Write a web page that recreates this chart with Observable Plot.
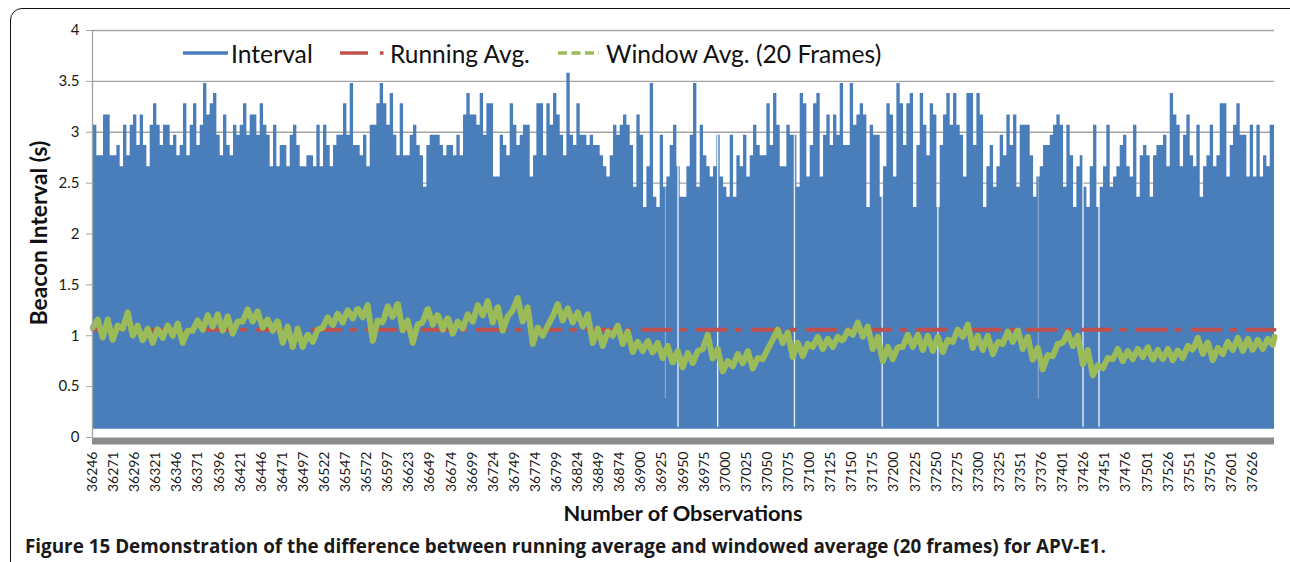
<!DOCTYPE html>
<html>
<head>
<meta charset="utf-8">
<script src="https://cdn.jsdelivr.net/npm/d3@7"></script>
<script src="https://cdn.jsdelivr.net/npm/@observablehq/plot@0.6"></script>
<style>
  html, body { margin:0; padding:0; background:#fff; }
  body { width:1290px; height:562px; overflow:hidden; position:relative; font-family: Lato, "Noto Sans", sans-serif; color:#1a1a1a; }
  #border { position:absolute; left:10px; top:8px; width:1300px; height:620px; border:1.6px solid #111; border-radius:12px; box-sizing:border-box; }
  #chart { position:absolute; left:0; top:0; }
  .leg { position:absolute; top:38px; height:30px; display:flex; align-items:center; font-size:25px; color:#111; white-space:nowrap; }
  .leg span { display:inline-block; }
  #ytitle { position:absolute; left:38px; top:233px; transform: translate(-50%,-50%) rotate(-90deg); font-weight:700; font-size:20px; white-space:nowrap; color:#111; }
  #xtitle { position:absolute; left:683px; top:512px; transform: translate(-50%,-50%); font-weight:700; font-size:21px; white-space:nowrap; color:#111; }
  #caption { position:absolute; left:25px; top:546px; transform: translateY(-50%); font-family:"Open Sans", "Noto Sans", sans-serif; font-weight:700; font-size:18px; white-space:nowrap; color:#1a1a1a; }
</style>
</head>
<body>
<div id="border"></div>
<div id="chart"></div>
<div id="legend"></div>
<div id="ytitle">Beacon Interval (s)</div>
<div id="xtitle">Number of Observations</div>
<div id="caption">Figure 15 Demonstration of the difference between running average and windowed average (20 frames) for APV-E1.</div>
<script>
// ---------- data ----------
const obsCount = 1402; // observations shown (category axis)
const tickLabels = ["36246","36271","36296","36321","36346","36371","36396","36421","36446","36471",
  "36497","36522","36547","36572","36597","36623","36649","36674","36699","36724",
  "36749","36774","36799","36824","36849","36874","36900","36925","36950","36975",
  "37000","37025","37050","37075","37100","37125","37150","37175","37200","37225",
  "37250","37275","37300","37325","37351","37376","37401","37426","37451","37476",
  "37501","37526","37551","37576","37601","37626"];
const labelEvery = 25;
const yTicks = [0,0.5,1,1.5,2,2.5,3,3.5,4];

// Interval: upper envelope of the beacon intervals (s), one value per ~3.95 observations
const intervalStep = 3.951, intervalStart = -2.73;
const intervalPeaks = [
3.17,3.07,2.77,2.77,3.17,3.17,2.77,2.77,2.87,2.66,
3.07,2.77,3.07,3.17,2.87,3.17,2.87,2.66,3.07,3.28,
3.07,2.87,3.07,3.07,2.87,2.97,2.77,2.87,3.28,2.77,
3.07,3.28,2.87,3.07,3.48,3.17,3.28,3.38,2.97,2.77,
3.17,2.87,2.77,3.07,2.97,3.07,3.28,2.97,3.17,3.17,
2.97,3.28,3.07,2.97,2.66,3.07,2.66,2.87,2.87,2.66,
2.97,3.07,2.87,2.66,2.66,2.77,2.77,2.66,3.07,2.66,
3.07,2.87,2.66,2.87,2.97,2.97,3.28,2.97,3.48,2.87,
2.87,2.77,2.97,2.66,3.07,3.07,3.28,3.48,3.28,3.07,
3.38,2.97,2.77,3.28,2.77,2.77,2.97,3.07,2.87,2.77,
2.46,2.87,2.97,2.97,2.97,2.87,2.77,2.87,2.87,2.77,
2.97,2.77,3.17,3.38,3.17,3.17,3.07,3.38,2.97,3.28,
3.28,2.56,2.56,2.97,2.87,2.77,3.28,3.07,2.87,2.97,
3.07,3.07,2.56,2.77,3.28,3.28,2.77,3.28,3.07,3.38,
3.17,2.97,2.77,3.58,2.97,2.87,3.28,2.97,2.97,2.87,
2.97,2.87,2.87,2.77,2.66,2.56,2.77,3.07,2.97,3.07,
3.17,3.07,2.87,2.46,3.17,2.97,2.26,2.66,3.48,2.36,
2.26,2.97,2.46,2.56,2.87,3.07,2.66,2.36,2.36,2.66,
2.97,3.48,2.46,3.07,2.77,2.66,2.56,2.66,2.97,2.56,
2.46,2.36,2.97,2.36,2.77,2.66,2.97,2.56,2.77,3.07,
2.87,2.77,2.77,3.28,2.87,3.38,3.07,2.66,2.66,3.07,
2.97,2.97,2.46,3.38,3.28,2.56,2.87,3.28,3.38,2.56,
2.97,3.17,2.87,3.17,2.97,3.48,2.87,2.87,3.48,3.07,
3.17,3.28,3.17,2.26,3.07,2.97,2.97,
2.36,2.66,3.28,3.17,2.56,3.48,3.28,2.87,3.28,3.38,
2.26,2.87,3.38,3.07,2.77,3.28,3.17,2.26,2.87,3.17,
3.38,3.07,3.38,3.07,2.97,2.56,3.38,3.38,2.87,3.38,
3.17,2.26,2.66,2.87,2.46,2.66,2.97,2.77,3.17,2.87,
3.17,2.46,3.07,3.07,3.07,2.77,2.36,2.56,2.66,2.87,
2.87,2.97,3.07,3.17,3.07,2.46,3.07,2.77,2.26,2.66,
2.77,2.46,2.26,2.66,3.07,2.26,2.46,2.66,3.07,2.46,
2.56,2.66,2.87,2.97,2.66,2.56,3.07,2.36,2.77,2.87,
2.77,2.36,2.77,2.87,2.87,2.97,2.66,3.38,3.17,3.07,
2.66,2.97,3.17,2.77,2.66,3.07,2.36,2.66,2.77,3.07,
2.66,2.77,3.28,3.28,2.56,2.87,3.07,3.28,2.97,2.97,
2.56,3.07,2.56,3.07,2.56,2.77,2.66,3.07];
const intervalLow = 0.08;
// observations where the interval stays low for consecutive frames (white slits)
const gapObs = [694, 741, 832, 936, 1002, 1174, 1193];
const faintGapObs = [679, 1121];

// Running average (s)
const runningAvg = [1.06,1.06,1.06,1.06,1.06,1.06,1.06,1.06,1.06,1.06,1.06,1.06,1.06,1.06,1.06];
const runningStep = 100;

// Window average (20 frames): level and frame-to-frame spread, one value per ~11.85 observations
const windowStep = 11.854, windowStart = 3.2;
const windowAvg = [
1.12,1.07,1.03,1.15,1.05,1.01,1.00,1.04,1.06,0.99,
1.10,1.13,1.15,1.12,1.08,1.20,1.19,1.12,1.10,1.01,
0.98,0.95,1.00,1.13,1.16,1.19,1.22,1.24,1.05,1.21,
1.25,1.10,1.02,1.20,1.16,1.12,1.08,1.14,1.22,1.27,
1.21,1.12,1.31,1.21,1.00,1.05,1.25,1.21,1.18,1.15,
1.00,0.97,1.05,0.98,0.89,0.90,0.88,0.84,0.79,0.76,
0.79,0.94,0.82,0.70,0.76,0.79,0.73,0.82,1.01,0.98,
0.86,0.86,0.94,0.92,0.94,1.00,1.07,1.04,0.93,
0.82,0.83,0.95,0.95,0.93,0.92,0.90,1.00,1.05,0.94,
0.93,0.88,0.98,1.00,0.93,0.82,0.74,0.86,0.98,0.95,
0.79,0.66,0.73,0.82,0.80,0.82,0.84,0.81,0.82,0.81,
0.84,0.92,0.88,0.82,0.88,0.92,0.91,0.91,0.92,0.95];
const windowSpread = [
0.04,0.09,0.07,0.08,0.05,0.06,0.07,0.06,0.06,0.06,
0.05,0.07,0.06,0.07,0.06,0.06,0.05,0.04,0.05,0.08,
0.09,0.06,0.06,0.05,0.06,0.06,0.05,0.06,0.10,0.08,
0.07,0.05,0.09,0.07,0.05,0.06,0.06,0.07,0.08,0.07,
0.08,0.07,0.06,0.07,0.08,0.05,0.06,0.06,0.05,0.06,
0.07,0.07,0.05,0.06,0.05,0.05,0.05,0.06,0.06,0.07,
0.06,0.07,0.05,0.05,0.06,0.06,0.05,0.05,0.05,0.05,
0.07,0.06,0.05,0.05,0.05,0.05,0.06,0.05,0.06,
0.07,0.06,0.06,0.06,0.07,0.07,0.06,0.06,0.06,0.06,
0.07,0.06,0.06,0.06,0.06,0.06,0.07,0.06,0.05,0.05,
0.07,0.05,0.05,0.05,0.05,0.05,0.05,0.05,0.05,0.05,
0.06,0.06,0.06,0.06,0.06,0.06,0.06,0.05,0.05,0.04];

const legendItems = ["Interval", "Running Avg.", "Window Avg. (20 Frames)"];
const colors = {interval:"#4a7ebb", running:"#c0504d", window:"#9bbb59"};

// ---------- build tables ----------
const last = obsCount - 1;
const clampX = v => Math.max(0, Math.min(last, v));
const envData = intervalPeaks.map((v,i) => ({x: clampX(intervalStart + i*intervalStep), v}));
envData.push({x: last, v: intervalPeaks[intervalPeaks.length-1]});
const envAt = o => { let i = Math.floor((o - intervalStart)/intervalStep); i = Math.max(0, Math.min(intervalPeaks.length-1, i)); return intervalPeaks[i]; };
const runData = runningAvg.map((v,i) => ({x: clampX(i*runningStep), v}));
runData.push({x: last, v: runningAvg[runningAvg.length-1]});
// each window sample is drawn as its low and high excursion (the frame-to-frame jitter)
const winData = windowAvg.flatMap((v,i) => {
  const c = windowStart + i*windowStep, s = windowSpread[i], q = windowStep/4;
  return [{x: clampX(c - q), v: v - s}, {x: clampX(c + q), v: v + s}];
});
const tickIdx = tickLabels.map((_,i) => i*labelEvery);

const chart = Plot.plot({
  width: 1290, height: 500,
  marginLeft: 92, marginRight: 16, marginTop: 30, marginBottom: 63,
  style: {fontFamily: "Lato, 'Noto Sans', sans-serif", fontSize: "14px", color: "#1a1a1a", background: "transparent"},
  x: {domain: [0, last]},
  y: {domain: [0, 4]},
  marks: [
    Plot.ruleY(yTicks.filter(d => d > 0), {stroke: "#a3a3a3", strokeWidth: 1.3}),
    Plot.areaY(envData, {x: "x", y1: () => intervalLow, y2: "v", curve: "step-after", fill: colors.interval}),
    Plot.ruleX(gapObs, {x: d => d, y1: () => intervalLow + 0.02, y2: d => envAt(d), stroke: "#ffffff", strokeWidth: 1.4, strokeOpacity: 0.85}),
    Plot.ruleX(faintGapObs, {x: d => d, y1: () => intervalLow + 0.3, y2: d => envAt(d), stroke: "#ffffff", strokeWidth: 1, strokeOpacity: 0.4}),
    Plot.lineY(runData, {x: "x", y: "v", stroke: colors.running, strokeWidth: 4, strokeDasharray: "28 11 3.5 12.5"}),
    Plot.lineY(winData, {x: "x", y: "v", stroke: colors.window, strokeWidth: 6, strokeDasharray: "12 2.5", strokeLinejoin: "round", strokeLinecap: "round"}),
    Plot.ruleX([0], {stroke: "#a3a3a3", strokeWidth: 1.3}),
    Plot.ruleY([0], {stroke: "#8c8c8c", strokeWidth: 7, dy: 3.5}),
    Plot.axisY({ticks: yTicks, tickSize: 6, tickPadding: 7, tickFormat: d => String(d), fontSize: 15, stroke: "#a3a3a3", label: null}),
    Plot.axisX({ticks: tickIdx, tickFormat: i => tickLabels[i/labelEvery], tickRotate: -90, tickSize: 0, tickPadding: 14, fontSize: 14, label: null})
  ]
});
document.getElementById("chart").appendChild(chart);

// ---------- legend (HTML overlay) ----------
const legend = document.getElementById("legend");
function addItem(left, swatch, text, textWidth) {
  const d = document.createElement("div");
  d.className = "leg"; d.style.left = left + "px";
  d.innerHTML = swatch + "<span>" + text + "</span>";
  legend.appendChild(d);
  fitWidth(d.querySelector("span"), textWidth);
}
function fitWidth(el, target) {
  const fs = parseFloat(getComputedStyle(el).fontSize);
  const w = el.offsetWidth;
  if (w > 0) el.style.fontSize = (fs * target / w).toFixed(2) + "px";
}
addItem(183, `<svg width="48" height="10" style="margin-right:0"><line x1="0" y1="5" x2="45" y2="5" stroke="${colors.interval}" stroke-width="3.5"/></svg>`, legendItems[0], 82);
addItem(340, `<svg width="50" height="10"><line x1="0" y1="5" x2="28" y2="5" stroke="${colors.running}" stroke-width="3.5"/><line x1="40" y1="5" x2="43.5" y2="5" stroke="${colors.running}" stroke-width="3.5"/></svg>`, legendItems[1], 140);
addItem(558, `<svg width="48" height="10"><line x1="0" y1="5" x2="41" y2="5" stroke="${colors.window}" stroke-width="3.5" stroke-dasharray="9 4.5"/></svg>`, legendItems[2], 275);
fitWidth(document.getElementById("caption"), 1082);
fitWidth(document.getElementById("xtitle"), 239);
fitWidth(document.getElementById("ytitle"), 185);
</script>
</body>
</html>
